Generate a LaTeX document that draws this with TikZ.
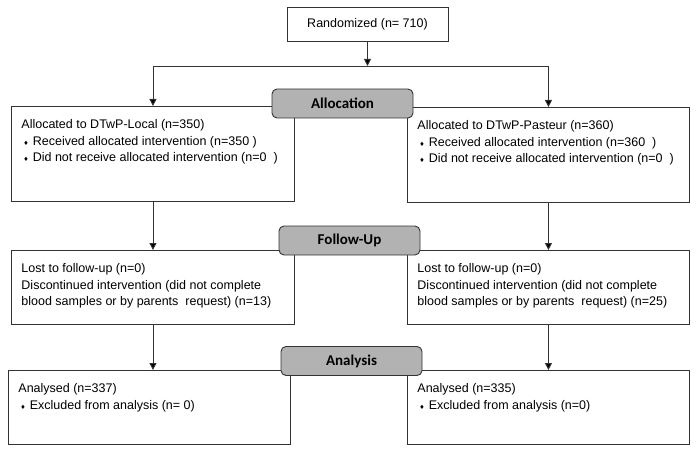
\documentclass[tikz,border=0pt]{standalone}
\usepackage{fontspec}
\setmainfont{Liberation Sans}
\newfontfamily\phasefont{Carlito}
\newfontfamily\symfont{DejaVu Sans}
\usetikzlibrary{arrows.meta, positioning, calc}

\newcommand{\bul}{\hspace*{2pt}{\symfont\fontsize{6}{6}\selectfont ♦}\hspace{4pt}}
\newcommand{\armtext}[3]{\parbox[t][#2][t]{#1}{\fontsize{12.5}{16.5}\selectfont #3}}

\begin{document}
\begin{tikzpicture}[
    x=1pt, y=-1pt,
    armbox/.style={rectangle, draw=black!80, line width=0.9pt, anchor=north west, inner xsep=10pt, inner ysep=13pt, align=left},
    topbox/.style={rectangle, draw=black!80, line width=0.9pt, minimum width=161pt, minimum height=34pt, font=\fontsize{12.5}{15}\selectfont},
    phase/.style={rectangle, rounded corners=5pt, draw=black!80, line width=0.9pt, fill=black!30, minimum width=141pt, minimum height=29pt, font=\phasefont\bfseries\fontsize{15}{18}\selectfont},
    arr/.style={-{Triangle[length=7pt, width=7pt, fill=black]}, draw=black!80, line width=0.9pt}
  ]
    \useasboundingbox (0,0) rectangle (700,454);

    \node[topbox] (rand) at (367.5,24) {Randomized (n= 710)};
    \coordinate (split) at (367.5,66);

    % allocation
    \node[armbox] (alL) at (11,106) {\armtext{263pt}{69pt}{Allocated to DTwP-Local (n=350)\\
      \bul Received allocated intervention (n=350 )\\
      \bul Did not receive allocated intervention (n=0~~)}};
    \node[armbox] (alR) at (407,107) {\armtext{262pt}{69pt}{Allocated to DTwP-Pasteur (n=360)\\
      \bul Received allocated intervention (n=360~~)\\
      \bul Did not receive allocated intervention (n=0~~)}};

    % follow-up
    \node[armbox] (fuL) at (11,250) {\armtext{263pt}{48pt}{Lost to follow-up (n=0)\\
      Discontinued intervention (did not complete\\
      blood samples or by parents~ request) (n=13)}};
    \node[armbox] (fuR) at (407,250) {\armtext{262pt}{48pt}{Lost to follow-up (n=0)\\
      Discontinued intervention (did not complete\\
      blood samples or by parents~ request) (n=25)}};

    % analysis
    \node[armbox] (anL) at (8,370) {\armtext{262pt}{48pt}{Analysed (n=337)\\
      \bul Excluded from analysis (n= 0)}};
    \node[armbox] (anR) at (407,370) {\armtext{262pt}{48pt}{Analysed (n=335)\\
      \bul Excluded from analysis (n=0)}};

    \node[phase] (pAlloc) at (342.5,103.5) {Allocation};
    \node[phase] (pFollow) at (349.5,240.5) {Follow-Up};
    \node[phase] (pAnal) at (351.5,361) {Analysis};

    \draw[arr] (rand) -- (split);
    \draw[arr] (split) -| (alL.north);
    \draw[arr] (split) -| (alR.north);
    \draw[arr] (alL.south) -- (alL.south |- fuL.north);
    \draw[arr] (alR.south) -- (alR.south |- fuR.north);
    \draw[arr] (fuL.south) -- (fuL.south |- anL.north);
    \draw[arr] (fuR.south) -- (fuR.south |- anR.north);
  \end{tikzpicture}
\end{document}
